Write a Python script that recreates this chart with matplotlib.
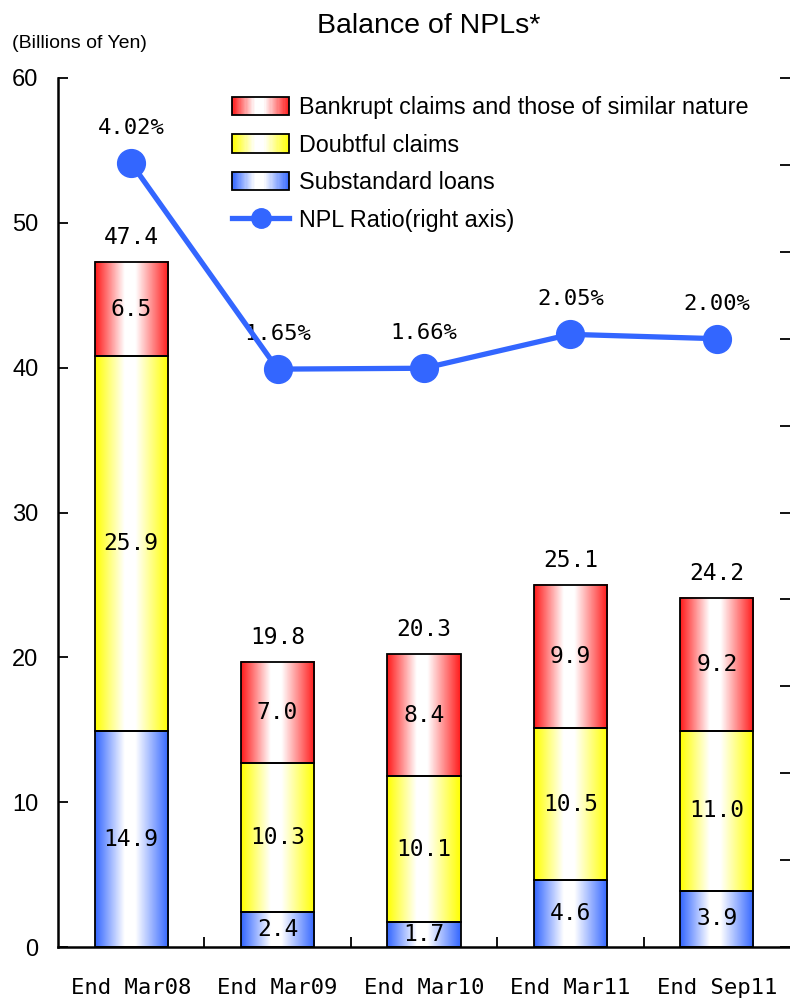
import numpy as np
import matplotlib
matplotlib.use("Agg")
import matplotlib.pyplot as plt
from matplotlib.colors import LinearSegmentedColormap
from matplotlib.legend_handler import HandlerBase
from matplotlib.lines import Line2D
from matplotlib.patches import Rectangle

# ---- data (billions of yen, ratio in %) ----
periods = ["End Mar08", "End Mar09", "End Mar10", "End Mar11", "End Sep11"]
substandard = [14.9, 2.4, 1.7, 4.6, 3.9]
doubtful = [25.9, 10.3, 10.1, 10.5, 11.0]
bankrupt = [6.5, 7.0, 8.4, 9.9, 9.2]
totals = [47.4, 19.8, 20.3, 25.1, 24.2]
npl_ratio = [4.02, 1.65, 1.66, 2.05, 2.00]
ratio_labels = ["4.02%", "1.65%", "1.66%", "2.05%", "2.00%"]

RED, YELLOW, BLUE = "#FF1A1A", "#FFFF00", "#3366FF"
LINE_BLUE = "#3366FF"

SANS = "Liberation Sans"
MONO = "DejaVu Sans Mono"


def shade(color):
    # colour at the edges, white band slightly left of centre
    return LinearSegmentedColormap.from_list(
        "shade", [(0, color), (0.4, "white"), (0.55, "white"), (1, color)])


class GradientHandler(HandlerBase):
    """Legend box filled with the same horizontal shading as the bars."""

    def __init__(self, cmap, steps=48):
        super().__init__()
        self.cmap = cmap
        self.steps = steps

    def create_artists(self, legend, orig_handle, xdescent, ydescent,
                       width, height, fontsize, trans):
        x0, y0 = -xdescent, -ydescent
        dw = width / self.steps
        parts = [Rectangle((x0 + i * dw, y0), dw * 1.05, height,
                           facecolor=self.cmap((i + 0.5) / self.steps),
                           edgecolor="none", transform=trans)
                 for i in range(self.steps)]
        parts.append(Rectangle((x0, y0), width, height, fill=False,
                               edgecolor="black", linewidth=1.3, transform=trans))
        return parts


def shaded_bar(ax, x, bottom, height, width, cmap):
    grad = np.linspace(0, 1, 128)[np.newaxis, :]
    ax.imshow(grad, extent=(x - width / 2, x + width / 2, bottom, bottom + height),
              aspect="auto", cmap=cmap, interpolation="bilinear", zorder=2)
    ax.add_patch(Rectangle((x - width / 2, bottom), width, height, fill=False,
                           edgecolor="black", linewidth=1.3, zorder=3))


fig = plt.figure(figsize=(7.9, 10.02), dpi=100)
ax = fig.add_axes([58 / 790, 55 / 1002, 732 / 790, 869 / 1002])

cmaps = {"b": shade(BLUE), "y": shade(YELLOW), "r": shade(RED)}
x = np.arange(len(periods))
width = 0.5
for i in x:
    segs = [(substandard[i], cmaps["b"]), (doubtful[i], cmaps["y"]), (bankrupt[i], cmaps["r"])]
    base = 0.0
    for val, cm in segs:
        shaded_bar(ax, i, base, val, width, cm)
        ax.text(i, base + val / 2, f"{val:.1f}", ha="center", va="center",
                fontsize=16.5, family=MONO, zorder=4, clip_on=True)
        base += val
    ax.annotate(f"{totals[i]:.1f}", (i, base), xytext=(0, 13), textcoords="offset points",
                ha="center", va="baseline", fontsize=16.5, family=MONO)

ax.set_xlim(-0.5, len(periods) - 0.5)
ax.set_ylim(0, 60)
ax.set_yticks(range(0, 61, 10))
ax.set_yticklabels([str(v) for v in range(0, 61, 10)], family=SANS, fontsize=17)
ax.tick_params(axis="y", direction="in", length=7, width=1.3, pad=14)
ax.set_xticks(x)
ax.set_xticklabels(periods, family=MONO, fontsize=16)
ax.set_xticks(np.arange(0.5, len(periods) - 0.5, 1), minor=True)
ax.tick_params(axis="x", which="major", length=0, pad=22)
ax.tick_params(axis="x", which="minor", direction="in", length=7, width=1.3)
for side in ("top", "right"):
    ax.spines[side].set_visible(False)
for side in ("left", "bottom"):
    ax.spines[side].set_linewidth(1.8)

# NPL ratio on the right axis
ax2 = ax.twinx()
ax2.plot(x, npl_ratio, color=LINE_BLUE, lw=3.8, marker="o", ms=20, zorder=5)
for xi, yi, lab in zip(x, npl_ratio, ratio_labels):
    ax2.annotate(lab, (xi, yi), xytext=(0, 21), textcoords="offset points",
                 ha="center", va="baseline", fontsize=16, family=MONO)
ax2.set_ylim(-5, 5)
ax2.set_yticks(range(-5, 6))
ax2.set_yticklabels([])
ax2.tick_params(axis="y", direction="in", length=7, width=1.3)
for side in ax2.spines:
    ax2.spines[side].set_visible(False)

proxies = [Rectangle((0, 0), 1, 1), Rectangle((0, 0), 1, 1), Rectangle((0, 0), 1, 1)]
line_proxy = Line2D([], [], color=LINE_BLUE, lw=3.8, marker="o", ms=14)
handler_map = {proxies[0]: GradientHandler(cmaps["r"]),
               proxies[1]: GradientHandler(cmaps["y"]),
               proxies[2]: GradientHandler(cmaps["b"])}
ax2.legend(proxies + [line_proxy],
           ["Bankrupt claims and those of similar nature", "Doubtful claims",
            "Substandard loans", "NPL Ratio(right axis)"],
           handler_map=handler_map, loc="upper left", bbox_to_anchor=(0.238, 0.979),
           frameon=False, borderpad=0, borderaxespad=0, handlelength=2.45,
           handleheight=0.85, handletextpad=0.4, labelspacing=0.62,
           prop={"family": SANS, "size": 16.8})

fig.text(429 / 790, 1 - 33 / 1002, "Balance of NPLs*", ha="center", va="baseline",
         family=SANS, fontsize=20.5)
fig.text(12 / 790, 1 - 43 / 1002, "(Billions of Yen)", ha="left", va="center",
         family=SANS, fontsize=14)

fig.savefig("out.png", dpi=100)
